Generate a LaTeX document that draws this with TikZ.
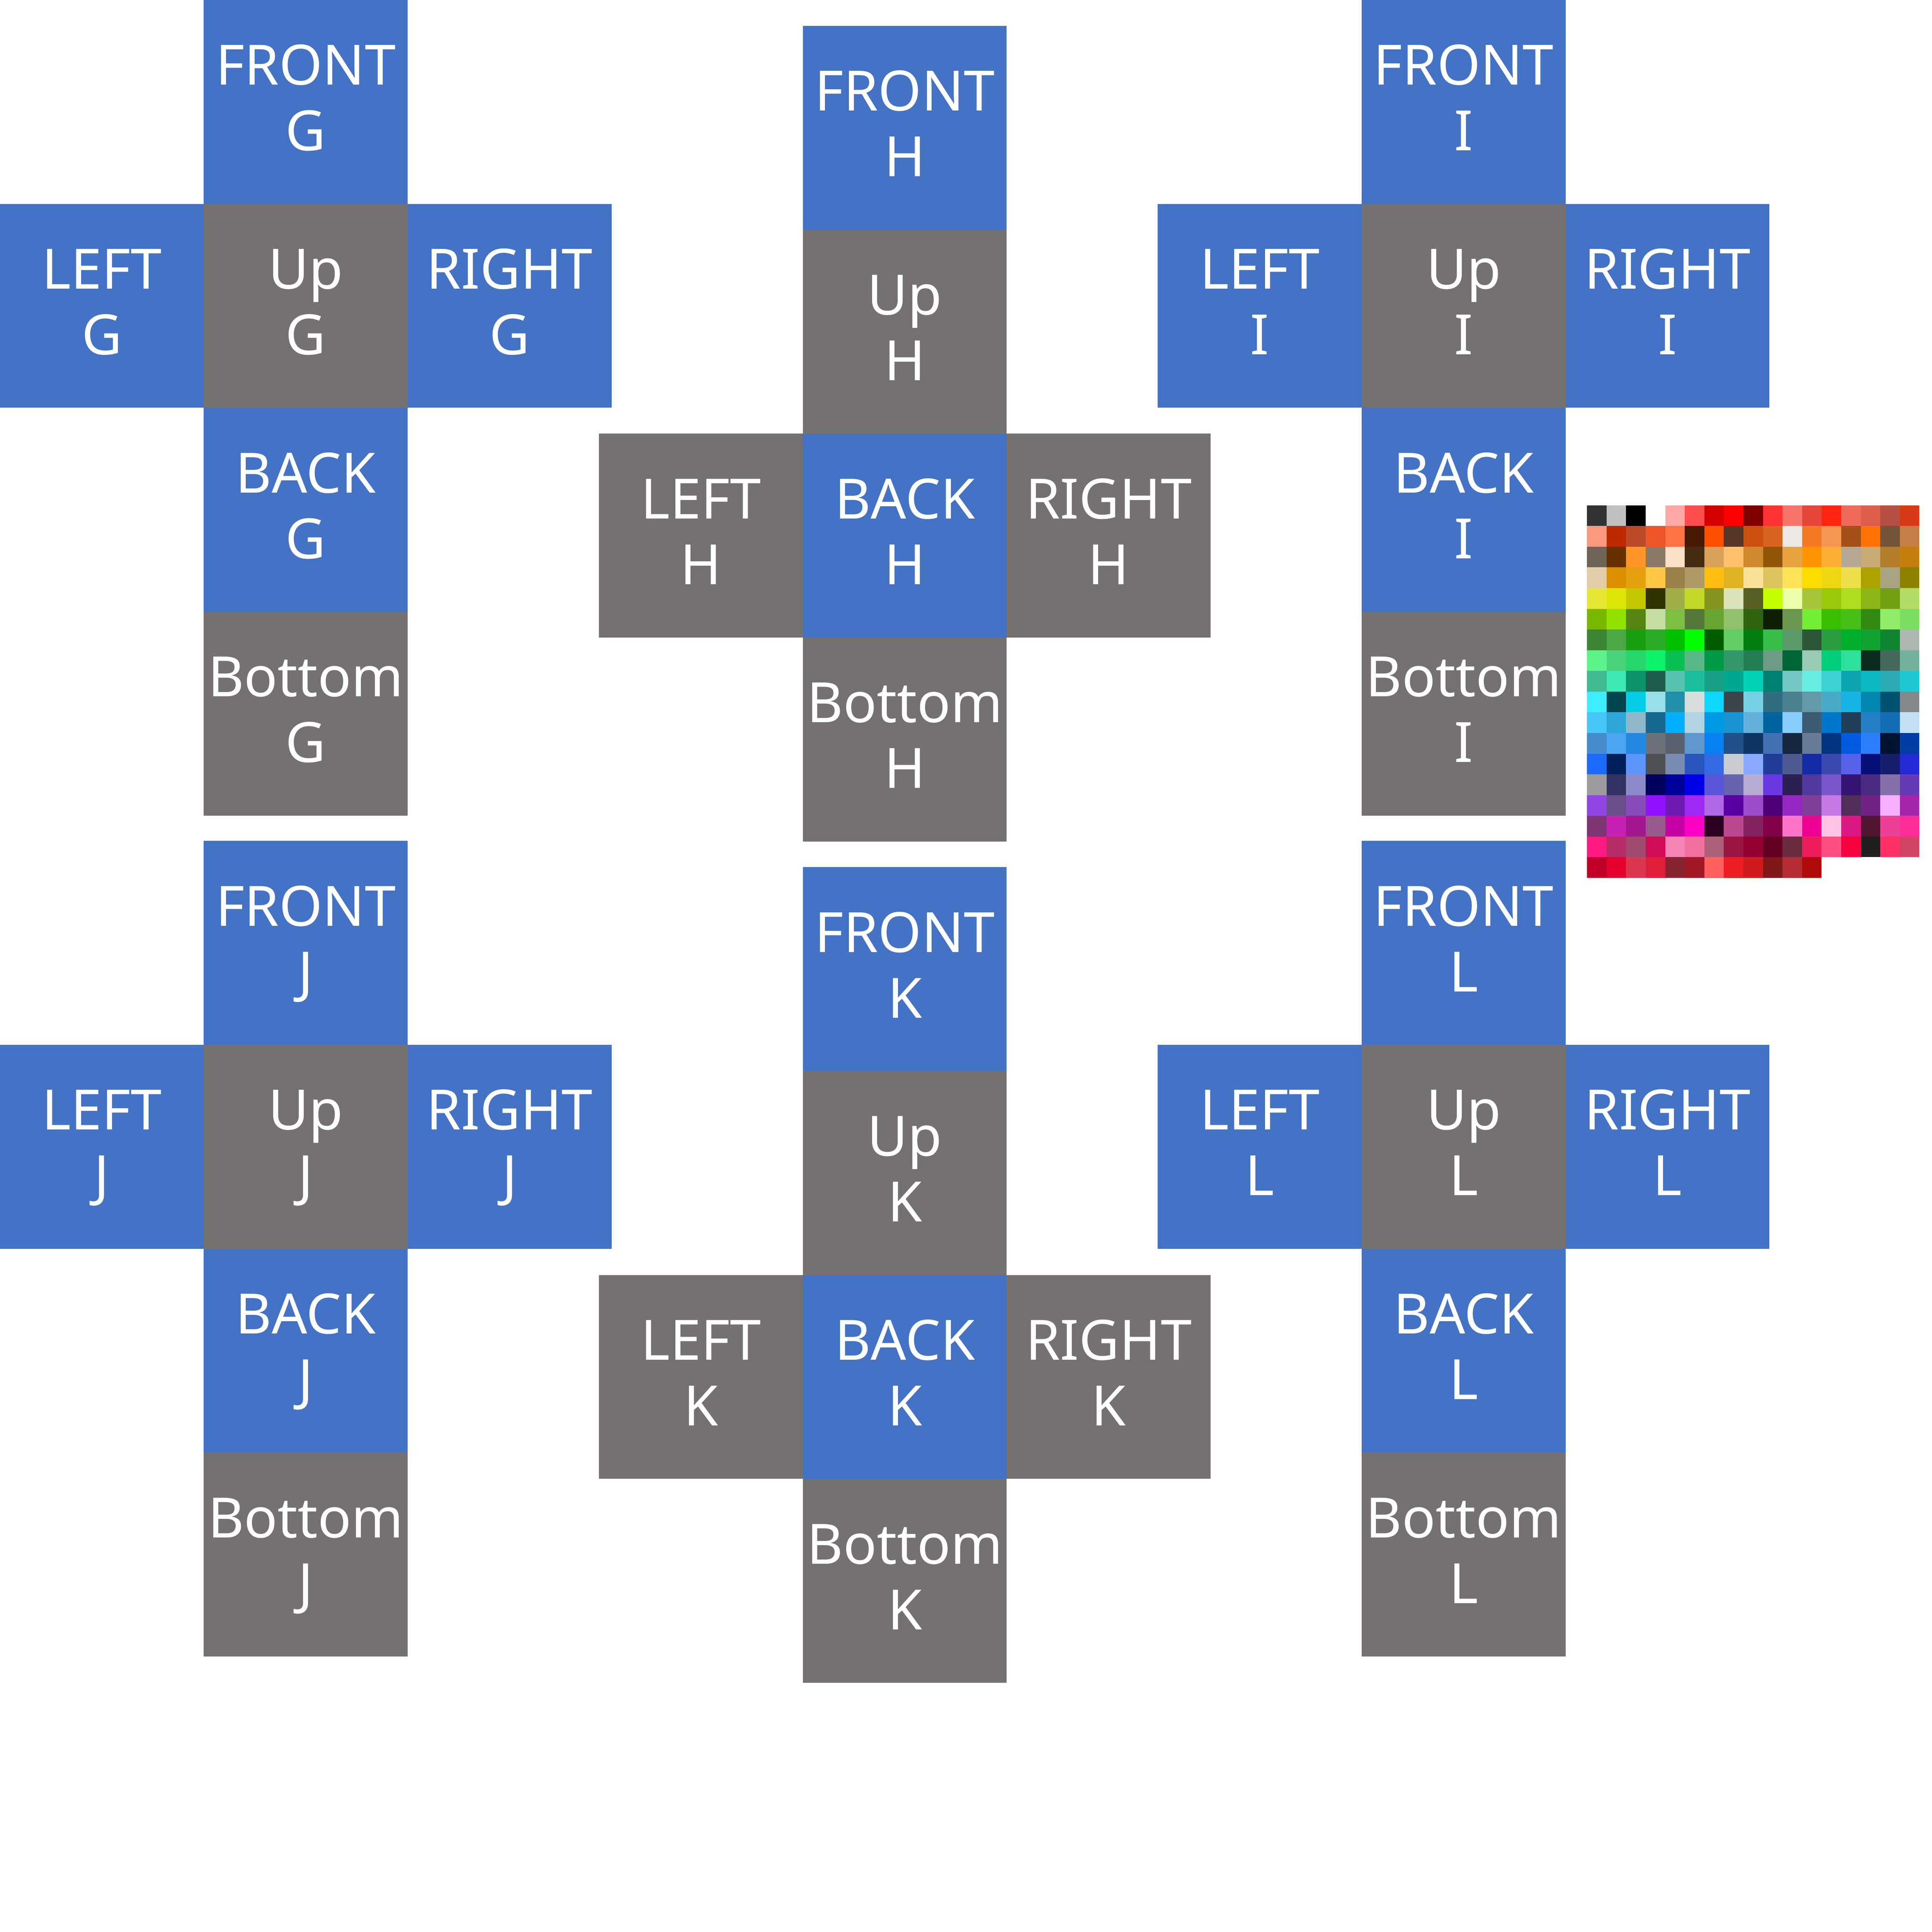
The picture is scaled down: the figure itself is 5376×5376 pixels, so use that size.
\documentclass[tikz,border=0pt]{standalone}
\definecolor{cubeblue}{RGB}{68, 114, 196}
\definecolor{cubegray}{RGB}{118, 113, 113}
\usepackage{fontspec}
\usepackage{tikz}
\usetikzlibrary{positioning}
\newfontfamily\facefont{Noto Sans}

\newcommand{\facetext}[2]{\begin{tabular}[t]{@{}c@{}}#1\\#2\end{tabular}}

% net with the LEFT/Up/RIGHT row under FRONT
\newcommand{\crossup}[3]{
  \node[blueface, anchor=north west] (front#1) at (#2,#3) {\facetext{FRONT}{#1}};
  \node[grayface, below=0pt of front#1] (up#1) {\facetext{Up}{#1}};
  \node[blueface, left=0pt of up#1] (left#1) {\facetext{LEFT}{#1}};
  \node[blueface, right=0pt of up#1] (right#1) {\facetext{RIGHT}{#1}};
  \node[blueface, below=0pt of up#1] (back#1) {\facetext{BACK}{#1}};
  \node[grayface, below=0pt of back#1] (bottom#1) {\facetext{Bottom}{#1}};
}
% net with the LEFT/BACK/RIGHT row under Up
\newcommand{\crossback}[3]{
  \node[blueface, anchor=north west] (front#1) at (#2,#3) {\facetext{FRONT}{#1}};
  \node[grayface, below=0pt of front#1] (up#1) {\facetext{Up}{#1}};
  \node[blueface, below=0pt of up#1] (back#1) {\facetext{BACK}{#1}};
  \node[grayface, left=0pt of back#1] (left#1) {\facetext{LEFT}{#1}};
  \node[grayface, right=0pt of back#1] (right#1) {\facetext{RIGHT}{#1}};
  \node[grayface, below=0pt of back#1] (bottom#1) {\facetext{Bottom}{#1}};
}

\begin{document}
\begin{tikzpicture}[x=0.01cm, y=-0.01cm,
  face/.style={minimum size=5.67cm, inner sep=0pt, outer sep=0pt, text=white,
    font={\facefont\fontsize{44}{52}\selectfont}, text height=31.6pt, text depth=58.5pt},
  blueface/.style={face, fill=cubeblue},
  grayface/.style={face, fill=cubegray}]
  \useasboundingbox (0,0) rectangle (5376,5376);

  \crossup{G}{567}{0}
  \crossback{H}{2234}{72}
  \crossup{I}{3789}{0}
  \crossup{J}{567}{2340}
  \crossback{K}{2234}{2413}
  \crossup{L}{3789}{2340}

  % colour swatches
  \foreach \c [count=\i from 0] in {
    333333,C0C0C0,000000,FFFFFF,FFA8A8,FF4D4D,D50000,FF0000,800000,FF3333,F5756B,E5473A,FF2511,EE6A5A,DE5E4C,B55042,D63A17,
    F99A80,BE2A00,BB4A26,EC5628,FF7345,491800,FF4F00,553628,CC510F,D8641F,EEE9E5,F57922,F59753,A45017,FF7205,765437,C77E44,
    706458,663000,FD9426,8B7A68,F9E0C6,442C10,D9A05A,FFC06A,D08A2E,925608,E8A33F,FF9400,FBB033,B5A996,CAAA76,B37E28,C47E0B,
    E2CDA9,D98F00,E4A00E,FFC744,998049,AF9966,FFBE10,DFB324,F9E298,DEC45E,FEE356,FEDC00,EFD714,EEDE4A,AEA200,A8A482,8C8200,
    E5E833,DBE605,C3C900,2F3300,A1AE47,C3D92A,85941E,DCE2BA,556125,C4FF00,EBFFAA,A6C63A,9AC909,ACDD1F,8BB716,72A012,B1DC66,
    7AB700,90E200,568514,C4DFA1,7CC042,55783A,67A533,91C16C,2F6510,0D2004,6A964F,74ED35,3ABE00,48BF19,318A13,91EB6B,79DE62,
    3C8635,4BA944,1A9F12,2BAC27,00C000,00FF00,005E00,62CD62,007F10,35BE48,5C9A6B,2C5837,2C9E42,00B02D,12A333,108530,ABB7AF,
    5CF48A,49D27A,27D66A,0CF26A,0BC052,58B987,009A47,34996A,237E54,6D9B85,006637,98CBB4,00CE78,2DE19D,0A2B20,44695C,73B29A,
    40BB92,3DE8B2,0D936B,1E5D4D,55C3AD,1BBD9D,18A187,00A891,00D1B4,007F73,74C7C2,66ECE3,3DD2D1,0CA5B0,0BB9C3,2CABB4,1EC8D2,
    3EEDFF,004550,04CCE6,97DFEB,2290A8,D7DDDD,0CD7FF,3C454B,77D1E6,326C80,4C8191,6399AA,48AAC7,18B3E6,0287B0,015271,83888B,
    46C7F7,2EA6D8,90B8CB,17688E,00B0FF,B2D3E2,0099E4,1993D2,63B0DD,0064A1,87CEFF,3C5A72,0077CB,203F56,2480C8,146EB5,C5DFF5,
    468BCC,4AA6F2,2589E3,6C727C,5A6270,6097CF,0682F2,21508A,0D3663,4471B3,17273F,687B97,003580,005BDE,2B7FFD,001330,003DA5,
    1B6BFF,00205D,5C95FA,4F5053,798BB3,2A56BD,346AE5,CBCCD1,89A9FF,213D98,4F5A92,142AA6,3A49AF,5962EB,070F79,181E6E,2629D8,
    9C9C9F,313365,8C89C8,02005E,00009A,0000E6,5B55DA,6663AF,B6ABD2,6B39E1,2B1F54,533A9F,7A55CB,351573,4A2C84,8670AA,653AB6,
    9247E5,6A4F8D,884DBB,9012FF,6D1BB3,A029F6,AF68E5,5A00A3,9D4DCA,500077,9628C1,803E98,C577E4,522E5B,702385,F6B0FF,A427AB,
    7E3673,C721B4,A3188E,985A8A,C501A3,FF00C5,2B0020,BA4891,84235F,82004A,FF74C8,EF0093,FFC3E4,DB1883,521532,EC4096,FE2D98,
    FF1A7F,B72D6A,9F4A6E,D10C59,F784B6,F06F9F,AE6079,9B1543,940032,640020,6A2B3E,EE1E5A,FF4E7F,F5033E,201E1F,FF3064,D24463,
    C00029,E6002D,DC3751,E01F3A,862530,A21825,FF5F5F,EE1C24,D11A1D,801719,B52D32,B00A0A} {
    \pgfmathtruncatemacro\row{\i/17}
    \pgfmathtruncatemacro\col{\i-17*\row}
    \definecolor{swatch}{HTML}{\c}
    \fill[swatch] ({4416+54.4*\col},{1406+57.6*\row}) rectangle ++(54.4,57.6);
  }
\end{tikzpicture}
\end{document}
